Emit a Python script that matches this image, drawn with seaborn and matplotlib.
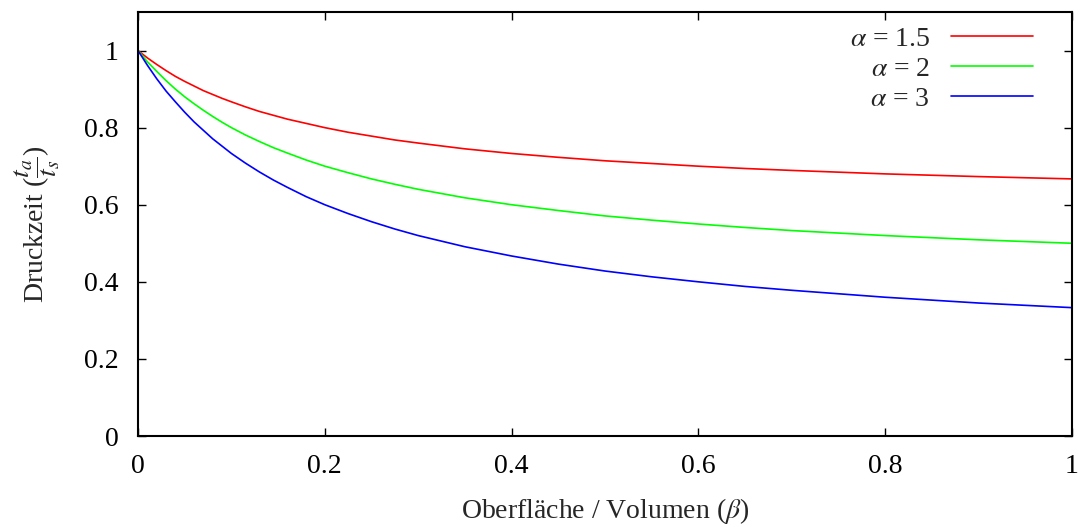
import matplotlib
matplotlib.use("Agg")
import matplotlib.pyplot as plt
import seaborn as sns
import pandas as pd

# Values
beta = [0.00, 0.01, 0.02, 0.03, 0.04, 0.05, 0.06, 0.07, 0.08, 0.09,
        0.10, 0.115, 0.13, 0.145, 0.16, 0.18, 0.20, 0.225, 0.25, 0.275,
        0.30, 0.35, 0.40, 0.45, 0.50, 0.55, 0.60, 0.65, 0.70, 0.80,
        0.90, 1.00]
alpha_15 = [1.000, 0.981, 0.964, 0.948, 0.933, 0.920, 0.908, 0.896, 0.886, 0.876,
            0.867, 0.854, 0.842, 0.832, 0.822, 0.811, 0.800, 0.788, 0.778, 0.768,
            0.760, 0.745, 0.733, 0.723, 0.714, 0.707, 0.700, 0.694, 0.689, 0.680,
            0.673, 0.667]
alpha_2 = [1.000, 0.971, 0.946, 0.922, 0.900, 0.880, 0.862, 0.845, 0.829, 0.814,
           0.800, 0.781, 0.764, 0.748, 0.734, 0.716, 0.700, 0.683, 0.667, 0.653,
           0.640, 0.618, 0.600, 0.585, 0.571, 0.560, 0.550, 0.541, 0.533, 0.520,
           0.509, 0.500]
alpha_3 = [1.000, 0.962, 0.927, 0.895, 0.867, 0.840, 0.815, 0.793, 0.771, 0.752,
           0.733, 0.708, 0.685, 0.664, 0.645, 0.621, 0.600, 0.577, 0.556, 0.537,
           0.520, 0.491, 0.467, 0.446, 0.428, 0.413, 0.400, 0.388, 0.378, 0.360,
           0.345, 0.333]
labels = [r"$\alpha$ = 1.5", r"$\alpha$ = 2", r"$\alpha$ = 3"]
colors = ["#ff0000", "#00ff00", "#0000ff"]
xticks = [0, 0.2, 0.4, 0.6, 0.8, 1]
xticklabels = ["0", "0.2", "0.4", "0.6", "0.8", "1"]
yticks = [0, 0.2, 0.4, 0.6, 0.8, 1]
yticklabels = ["0", "0.2", "0.4", "0.6", "0.8", "1"]

frames = []
for lab, vals in zip(labels, [alpha_15, alpha_2, alpha_3]):
    frames.append(pd.DataFrame({"beta": beta, "value": vals, "series": lab}))
df = pd.concat(frames, ignore_index=True)

sns.set_style("ticks")
plt.rcParams["font.family"] = ["Liberation Serif", "DejaVu Serif"]
plt.rcParams["mathtext.fontset"] = "stix"

FS = 20

fig = plt.figure(figsize=(10.81, 5.27), dpi=100)
ax = fig.add_axes([138 / 1081, 1 - 436 / 527, (1072 - 138) / 1081, (436 - 12) / 527])

sns.lineplot(data=df, x="beta", y="value", hue="series", hue_order=labels,
             palette=colors, linewidth=1.2, ax=ax, legend=True)

ax.set_xlim(0, 1)
ax.set_ylim(0, 1.1)
ax.set_xticks(xticks)
ax.set_xticklabels(xticklabels)
ax.set_yticks(yticks)
ax.set_yticklabels(yticklabels)
ax.tick_params(direction="in", top=True, right=True, length=6, width=1,
               labelsize=FS, colors="black")
ax.tick_params(axis="x", pad=13)
ax.tick_params(axis="y", pad=14)
for s in ax.spines.values():
    s.set_visible(True)
    s.set_linewidth(1.5)
    s.set_color("black")

ax.set_xlabel(r"Oberfläche / Volumen ($\beta$)", fontsize=FS, labelpad=12)
ax.set_ylabel(r"Druckzeit ($\dfrac{t_a}{t_s}$)", fontsize=FS, labelpad=16)

handles, labs = ax.get_legend_handles_labels()
ax.legend(handles, labs, loc="upper right", bbox_to_anchor=(0.958, 0.966),
          frameon=False, markerfirst=False, alignment="right", fontsize=FS,
          handlelength=2.95, handletextpad=0.75, labelspacing=0.17, borderpad=0,
          borderaxespad=0)

fig.savefig("out.png", dpi=100)
